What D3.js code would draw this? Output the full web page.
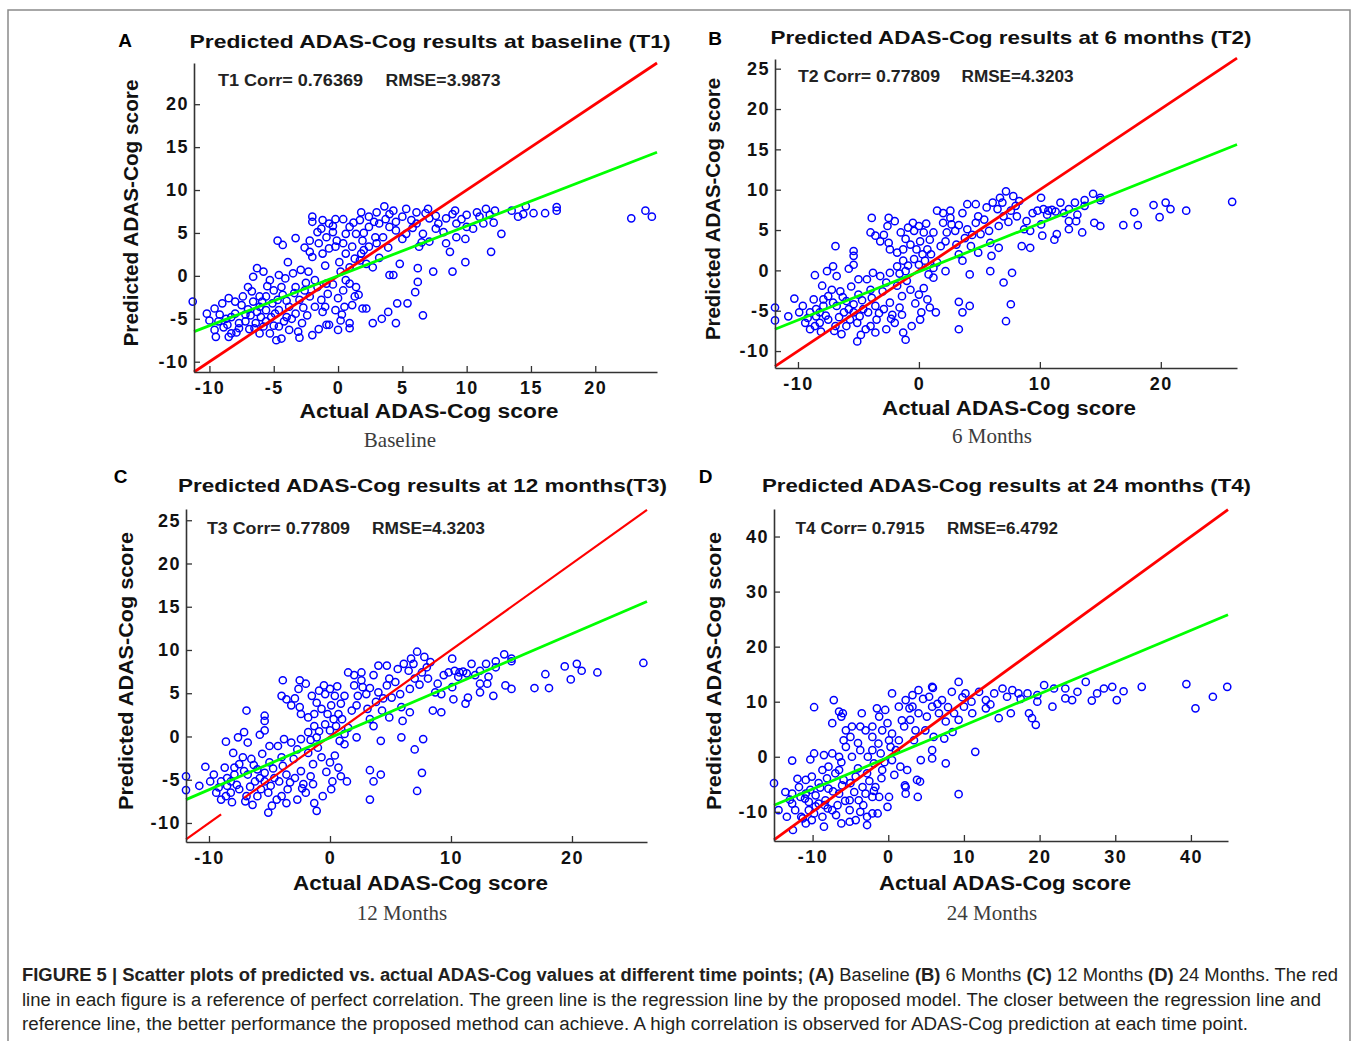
<!DOCTYPE html>
<html lang="en">
<head>
<meta charset="utf-8" />
<title>Figure 5</title>
<script src="https://d3js.org/d3.v7.min.js"></script>
<style>
  body { margin: 0; background: #fff; }
  svg { display: block; }
</style>
</head>
<body>
<svg id="fig" width="1358" height="1041"></svg>
<script>
// ---- data ----
const panelLetters = ["A", "B", "C", "D"];
const panelTitles = [
  "Predicted ADAS-Cog results at baseline (T1)",
  "Predicted ADAS-Cog results at 6 months (T2)",
  "Predicted ADAS-Cog results at 12 months(T3)",
  "Predicted ADAS-Cog results at 24 months (T4)"
];
const corrLabels = ["T1 Corr= 0.76369", "T2 Corr= 0.77809", "T3 Corr= 0.77809", "T4 Corr= 0.7915"];
const rmseLabels = ["RMSE=3.9873", "RMSE=4.3203", "RMSE=4.3203", "RMSE=6.4792"];
const subtitles = ["Baseline", "6 Months", "12 Months", "24 Months"];
const xLabel = "Actual ADAS-Cog score";
const yLabel = "Predicted ADAS-Cog score";

const xDomains = [[-11.2, 24.8], [-11.9, 26.3], [-11.9, 26.2], [-15.1, 44.9]];
const yDomains = [[-11.2, 24.8], [-12.1, 26.2], [-12.2, 26.3], [-15.3, 45]];
const xTicks = [
  [-10, -5, 0, 5, 10, 15, 20],
  [-10, 0, 10, 20],
  [-10, 0, 10, 20],
  [-10, 0, 10, 20, 30, 40]
];
const yTicks = [
  [-10, -5, 0, 5, 10, 15, 20],
  [-10, -5, 0, 5, 10, 15, 20, 25],
  [-10, -5, 0, 5, 10, 15, 20, 25],
  [-10, 0, 10, 20, 30, 40]
];

// reference (y = x) segments, panel C has a small gap in it
const refLines = [
  [[[-11.2, -11.2], [24.8, 24.8]]],
  [[[-11.9, -11.9], [26.3, 26.3]]],
  [[[-11.9, -11.9], [-9, -9]], [[-7.1, -7.1], [26.2, 26.2]]],
  [[[-15.1, -15.1], [44.9, 44.9]]]
];
// regression lines, end points
const fitLines = [
  [[-11.2, -6.5], [24.8, 14.4]],
  [[-11.9, -7.3], [26.3, 15.6]],
  [[-11.9, -7.3], [26.2, 15.6]],
  [[-15.1, -8.8], [44.9, 25.8]]
];

// [actual, predicted]
const pointsT1 = [
  [22.8,6.7],[23.9,7.6],[24.4,6.9],
  [17.0,8.0],[17.0,7.6],[16.1,7.3],[15.2,7.3],[14.6,8.1],[14.0,6.9],[13.5,7.6],[14.4,7.2],
  [12.7,4.9],[11.9,2.8],[12.1,6.2],[11.3,6.1],[10.5,5.5],[9.9,4.3],[9.9,1.6],[8.9,0.5],[8.7,2.8],
  [8.4,3.8],[7.4,0.5],[6.2,0.9],[6.2,-0.7],[6.0,-1.9],[6.6,-4.6],[5.4,-3.2],[4.6,-3.2],[4.8,1.4],
  [4.0,0.1],[4.3,0.1],[3.9,-4.2],[3.4,-5.0],[2.7,-5.5],[4.5,-5.5],[6.3,3.4],[7.1,4.0],
  [10.8,7.4],[11.5,7.8],[12.2,7.6],[11.0,6.9],[10.0,7.1],[9.1,7.6],[8.4,6.7],[7.8,6.1],[7.1,6.7],
  [7.6,5.5],[6.6,4.9],[6.1,6.1],[5.3,4.9],[5.0,4.3],[8.2,5.1],[9.2,6.1],[10.0,5.7],[9.2,4.5],
  [7.0,7.8],[6.1,7.4],[5.3,7.8],[3.6,8.1],[4.0,7.2],[3.0,7.4],[2.4,6.9],[1.8,7.4],[1.7,6.5],
  [2.4,5.7],[3.2,6.1],[4.0,5.7],[4.5,5.3],[3.5,4.5],[3.0,3.8],[2.4,3.4],[1.9,4.1],[1.4,4.9],
  [0.9,5.7],[0.4,6.6],[-0.2,6.6],[-0.7,6.1],[-1.2,6.5],[-2.0,6.9],[-2.0,6.3],[-1.3,5.5],[-0.4,5.1],
  [-0.9,4.5],[-1.5,3.8],[-2.2,4.1],[-2.2,2.8],[-2.0,2.2],[-1.2,2.6],[-0.7,3.2],[-0.2,3.4],[0.4,3.8],
  [0.6,2.6],[0.1,1.6],[0.9,1.0],[1.7,1.8],[2.2,1.4],[2.7,1.0],[1.1,3.4],[1.8,2.6],
  [4.3,7.6],[5.0,6.9],[2.8,6.3],
  [-4.7,4.1],[-4.3,3.6],[-3.3,4.4],[-3.9,1.6],
  [-11.3,-3.0],[-10.2,-4.4],[-9.6,-3.8],[-9.6,-6.3],[-9.5,-7.1],[-9.0,-3.2],[-8.5,-2.6],[-8.3,-4.8],
  [-8.3,-6.7],[-7.7,-5.5],[-7.5,-3.4],[-7.4,-2.4],[-7.0,-1.3],[-6.6,-0.1],[-6.3,0.9],[-5.8,0.5],
  [-5.3,-0.5],[-5.0,-1.7],[-5.6,-2.4],[-6.1,-3.6],[-6.8,-4.6],[-6.4,-5.5],[-6.1,-6.7],[-5.3,-6.7],
  [-4.8,-7.5],[-4.4,-7.3],[-4.6,-5.9],[-4.0,-4.8],[-3.8,-3.6],[-3.8,-6.3],[-3.1,-6.5],[-2.8,-5.5],
  [-3.3,-4.4],[-3.0,-2.8],[-2.6,-1.7],[-3.3,-1.3],[-4.1,-0.3],[-4.6,0.1],[-3.5,0.3],[-2.9,0.7],
  [-2.3,0.5],[-1.8,-0.5],[-2.2,-2.4],[-1.8,-3.6],[-2.4,-4.6],[-2.0,-6.9],[-0.9,-5.7],[-0.7,-5.7],
  [0.0,-6.3],[-0.2,-4.0],[0.5,-3.6],[0.9,-5.5],[0.9,-6.1],[0.2,-5.2],[0.0,-2.6],[0.4,-1.7],
  [0.9,-0.9],[1.4,-1.3],[1.3,-2.4],[1.9,-3.8],[2.2,-3.8],[1.1,-3.4],[-0.8,-2.1],[-0.9,-0.9],
  [-1.3,-2.8],[-1.2,-4.2],
  [-10.0,-5.2],[-9.3,-5.3],[-8.7,-5.0],[-8.6,-5.7],[-8.0,-4.4],[-7.7,-6.1],[-7.2,-5.3],[-7.0,-3.9],
  [-6.6,-3.0],[-6.1,-2.4],[-6.0,-4.8],[-5.6,-5.3],[-5.2,-4.8],[-5.1,-3.2],[-4.7,-2.8],[-4.6,-4.0],
  [-4.2,-5.3],[-5.6,-4.0],[-6.5,-6.1],[-8.5,-7.1],[-5.8,-5.9],[-4.3,-2.2],
  [-8.0,-3.0],[-7.2,-4.5],[-6.9,-6.2],[-6.3,-4.2],[-5.9,-3.0],[-5.5,-1.2],[-4.9,-4.4],[-4.4,-1.3],
  [-4.0,-2.9],[-3.6,-5.0],[-3.4,-2.0],[-2.7,-3.7],[-2.5,-0.8],[-1.6,-1.3],[-1.0,-3.6],[-0.4,-1.0],
  [0.3,-4.5],[0.6,-0.5],[1.6,-2.2],[-7.9,-6.6],[-9.2,-4.5],[-8.9,-6.0],[-6.7,-1.8],[-5.0,-5.8],
  [-3.0,-7.2],[-1.5,-6.2],[-0.4,5.8],[0.6,4.9],[1.2,6.2],[2.0,5.0],[2.9,4.5],[3.7,6.6],[4.5,6.3],
  [5.7,6.5],[5.8,5.6],[6.8,7.3],[-1.6,5.1],[-0.1,4.1],[1.3,2.0],[2.0,3.0],[3.2,2.1],[-2.6,3.3],
  [-1.0,1.2],[0.2,0.5],[8.9,7.2],[9.6,6.6],[11.8,7.1],[7.6,7.0],[6.5,3.9],[3.9,3.3]
];

// panels B and C show the same scatter
const pointsT2 = [
  [25.9,8.5],[22.1,7.4],[20.4,8.4],[20.8,7.6],[19.4,8.1],[19.9,6.6],[18.1,5.6],[16.9,5.6],[17.8,7.2],
  [15.0,8.7],[15.0,9.0],[14.4,9.5],[15.0,5.5],[14.5,5.9],[13.5,4.7],[13.1,6.9],[13.0,6.1],[12.4,5.1],
  [12.4,6.1],[12.0,7.1],[11.4,4.5],[11.2,3.8],[10.2,4.3],[10.1,5.7],[10.7,7.4],[10.3,7.6],[9.8,7.4],
  [9.4,7.1],[10.1,9.0],[11.7,8.4],[12.9,8.4],[13.7,8.7],[13.7,8.0],[9.2,4.9],[8.7,5.1],[9.2,2.8],
  [8.5,3.0],[8.1,6.7],[7.6,7.4],[8.0,8.0],[7.2,9.8],[7.8,9.2],[6.7,9.0],[6.1,8.4],[6.5,7.6],[7.0,6.7],
  [6.6,5.5],[5.8,4.9],[5.1,4.5],[5.9,3.4],[6.6,2.8],[6.0,1.8],[4.9,2.2],[4.3,3.0],[3.8,4.0],[3.1,3.2],
  [3.6,1.2],[3.3,2.0],[4.0,5.1],[4.7,5.9],[4.9,6.7],[4.7,8.2],[4.0,8.2],[3.6,7.1],[2.7,5.7],[3.0,4.9],
  [2.3,4.7],[2.2,3.6],[2.0,5.9],[1.5,7.4],[2.0,7.1],[2.6,7.4],
  [5.9,-0.1],[7.7,-0.3],[7.0,-1.5],[7.6,-4.2],[7.2,-6.3],[4.2,-0.5],[4.2,-4.4],[3.6,-5.2],[3.3,-3.9],
  [3.3,-7.3],[2.2,-0.1],
  [-3.9,6.5],[-2.5,6.5],[-2.0,6.1],[-2.6,5.5],[-4.0,4.7],[-3.6,4.3],[-3.2,3.6],[-2.5,3.4],[-1.5,4.7],
  [-0.5,5.9],[0.0,5.5],[-0.4,4.9],[0.4,4.7],[1.2,4.7],[0.9,3.8],[0.1,3.6],[-0.7,3.2],[-1.3,2.6],
  [-1.8,2.2],[-2.4,2.6],[-0.2,2.6],[0.7,2.6],[-0.4,1.4],[-1.3,1.2],[-1.8,0.5],[-2.4,-0.3],[-1.1,-0.1],
  [0.0,0.7],[0.5,1.2],[1.2,0.3],[1.5,1.0],[1.2,-0.9],
  [-6.9,3.0],[-5.4,2.4],[-5.4,1.8],[-5.8,0.2],[-5.4,0.7],[-7.1,0.5],[-7.6,-0.1],[-8.6,-0.6],[-6.8,-0.7],
  [-8.0,-1.9],[-10.3,-3.5],[-11.9,-4.6],[-11.9,-6.2],[-10.8,-5.7],[-9.6,-4.4],[-9.4,-6.5],[-9.0,-7.3],
  [-8.6,-6.9],[-8.2,-5.2],[-7.9,-4.4],[-7.5,-3.2],[-7.2,-2.4],[-6.5,-2.6],[-6.0,-3.8],[-6.2,-5.2],
  [-5.4,-4.2],[-5.0,-3.0],[-5.0,-1.1],[-4.3,-1.1],[-4.0,-2.4],[-4.6,-4.8],[-5.1,-6.5],[-4.4,-7.3],
  [-3.6,-7.7],[-5.1,-8.8],[-6.4,-7.9],[-6.9,-6.9],[-7.5,-6.1],[-3.5,-6.1],[-2.9,-4.8],[-2.7,-7.3],
  [-2.0,-6.5],[-1.3,-7.7],[-1.1,-8.6],[-0.6,-6.9],[0.1,-6.1],[0.2,-5.2],[0.9,-4.6],[1.4,-5.2],
  [0.7,-3.6],[0.0,-3.0],[-0.7,-2.4],[-1.4,-3.2],[-1.8,-1.9],[-2.7,-1.5],[-3.2,-0.7],[-3.8,-0.3],
  [-1.4,-5.5],[-2.2,-5.5],[-3.6,-4.4],[-5.7,-6.1],[-8.5,-5.7],[-9.0,-5.2],[-8.7,-3.6],[-6.8,-4.4],
  [-8.2,-6.5],[-6.0,-6.9],[-4.9,-5.7],[-4.0,-6.9],[-7.9,-3.6],[-5.4,-5.2],
  [-8.5,-4.8],[-7.7,-5.6],[-7.1,-4.0],[-6.6,-5.8],[-6.3,-3.3],[-5.8,-4.8],[-5.6,-2.0],[-4.7,-3.7],
  [-4.2,-5.2],[-3.9,-3.4],[-3.3,-5.3],[-3.0,-2.6],[-2.4,-4.0],[-2.3,-6.0],[-1.6,-4.6],[-1.0,-1.3],
  [-0.3,-4.1],[0.4,-2.2],[0.8,-0.5],[-9.9,-5.2],[-9.2,-5.9],[-8.1,-7.6],[-7.0,-7.5],[-4.8,-8.0],
  [-1.6,-0.4],[-0.9,0.6],[0.3,2.0],[1.0,2.0],[1.8,3.0],[-1.1,3.9],[-2.9,4.4],[-0.9,5.3],[0.6,5.8],
  [2.6,6.5],[3.3,5.6],[4.4,4.4],[5.4,6.3],[5.6,7.8],[6.9,8.4],[8.3,8.6],[7.4,6.0],[11.0,7.5],
  [10.6,6.9],[11.3,7.3],[12.4,7.6],[8.9,6.1]
];

const pointsT4 = [
  [44.8,12.7],[42.9,10.9],[40.6,8.8],[39.4,13.2],[33.5,12.7],[31.1,11.9],[30.2,10.3],[29.6,12.7],
  [28.5,12.4],[27.6,11.5],[26.9,10.2],[26.1,13.6],[25.0,11.8],[24.3,10.3],[23.4,10.6],[23.4,12.4],
  [21.7,9.1],[21.9,12.4],[20.6,13.0],[19.7,10.0],[19.5,5.8],[19.0,7.0],[18.6,7.9],[19.7,11.2],
  [18.4,11.5],[17.2,11.5],[16.4,12.1],[15.7,10.9],[15.1,12.4],[14.6,7.0],[16.2,7.9],[14.0,11.5],
  [12.9,10.3],[12.0,11.8],[11.5,0.9],[10.2,11.5],[9.3,13.6],[8.4,11.8],[5.8,12.7],[7.1,10.3],
  [10.0,9.1],[11.1,7.9],[12.9,8.8],[9.3,6.7],[7.6,6.4],[8.7,7.9],[6.7,7.9],[5.8,9.1],[5.1,7.3],
  [5.4,10.9],[4.0,12.1],[3.2,11.2],[2.3,10.3],[0.5,11.5],[1.4,9.1],[3.2,9.1],[4.0,7.9],[2.9,6.7],
  [2.1,5.5],[3.6,4.8],[4.9,4.8],[6.0,3.6],[7.4,3.3],[5.8,1.2],[5.8,-0.3],[7.6,-1.2],[3.8,-4.2],
  [4.3,-0.6],[2.5,-2.4],[2.3,-5.5],[2.3,-6.7],[3.9,-7.3],[0.1,-7.3],[-0.1,-9.1],[-1.4,-10.3],
  [-2.8,-12.4],[9.3,-6.8],[0.5,-0.6],[1.0,1.2],[-0.8,-2.4],[-1.0,0.6],[-2.1,1.2],[-2.1,3.6],
  [-3.0,4.8],[-2.1,5.5],[-1.2,7.3],[-1.5,8.8],[-0.4,8.5],[-0.1,6.1],[0.5,4.2],[1.4,3.0],[0.1,3.0],
  [-0.8,4.8],[-3.5,7.9],[-3.7,5.5],[-4.8,5.5],[-5.0,3.6],[-5.9,3.0],[-5.6,4.8],[-6.2,7.3],[-6.5,8.2],
  [-6.0,7.9],[-7.2,10.3],[-7.4,6.1],[-9.8,9.0],[5.9,12.5],
  [-3.7,1.2],[-4.8,0.0],[-5.6,1.8],[-6.5,0.0],[-7.4,0.6],[-8.5,0.3],[-9.8,0.6],[-10.3,-0.5],
  [-12.7,-0.7],[-15.1,-4.8],[-13.6,-6.4],[-12.7,-6.7],[-12.3,-9.7],[-12.6,-13.3],[-10.9,-12.1],
  [-10.1,-11.5],[-8.5,-12.7],[-8.7,-10.9],[-7.4,-9.7],[-6.2,-12.1],[-5.1,-11.8],[-5.1,-9.7],
  [-3.9,-7.9],[-2.8,-10.9],[-2.1,-10.3],[-3.4,-5.5],[-4.3,-3.6],[-5.9,-4.2],[-7.0,-3.0],[-7.9,-1.8],
  [-6.5,-2.4],[-8.7,-2.4],[-10.1,-3.6],[-10.9,-4.2],[-11.8,-5.5],[-11.6,-7.3],[-10.5,-8.2],
  [-9.6,-7.0],[-9.2,-8.5],[-8.3,-7.9],[-7.9,-5.8],[-6.5,-6.7],[-5.1,-7.9],[-3.0,-6.7],[-2.1,-7.3],
  [-5.0,-4.8],[-9.2,-4.8],[-10.9,-6.7],[-14.5,-9.7],[-10.5,-9.7],[-12.7,-8.5],[-13.4,-10.9],
  [-9.8,-10.3],[-11.5,-10.9],[-8.0,-9.4],[-6.7,-8.8],[-4.3,-11.5],[-3.7,-10.0],[-2.8,-3.0],
  [-1.7,-5.5],[-1.2,-7.3],[-1.9,-1.2],[2.2,-5.2],[4.2,-4.5],
  [-11.0,-7.6],[-10.3,-6.0],[-9.6,-9.0],[-9.0,-5.6],[-8.4,-8.8],[-8.1,-3.9],[-7.3,-6.3],[-6.9,-10.6],
  [-6.1,-5.2],[-5.7,-8.0],[-4.5,-6.4],[-4.0,-2.1],[-3.3,-8.8],[-2.5,-4.4],[-1.9,-6.2],[-0.9,-3.9],
  [-0.5,-1.0],[0.8,-3.3],[-12.0,-4.0],[-11.3,-11.2],[-13.0,-7.8],[-1.3,2.4],[0.3,1.8],[1.8,6.6],
  [2.8,8.8],[4.6,10.5],[3.4,3.0],[6.5,9.6],[7.9,9.0],[9.8,10.8],[11.0,10.0],[-4.0,2.5],[-2.7,0.0],
  [-6.2,-1.0],[1.6,-1.8],[13.5,9.5],[17.5,10.5],[8.5,4.5]
];

const pointSets = [pointsT1, pointsT2, pointsT2, pointsT4];

const captionLines = [
  [["FIGURE 5 | Scatter plots of predicted vs. actual ADAS-Cog values at different time points; (A)", true],
   [" Baseline ", false], ["(B)", true], [" 6 Months ", false], ["(C)", true],
   [" 12 Months ", false], ["(D)", true], [" 24 Months. The red", false]],
  [["line in each figure is a reference of perfect correlation. The green line is the regression line by the proposed model. The closer between the regression line and", false]],
  [["reference line, the better performance the proposed method can achieve. A high correlation is observed for ADAS-Cog prediction at each time point.", false]]
];

// ---- layout (pixels) ----
const layout = [
  { left: 194, right: 657, top: 63, bottom: 372, letter: [125, 40], title: [430, 41, 481],
    corr: [218, 80.5, 145], rmse: [385.5, 80.5, 115], xlab: [429, 411, 259], ylab: [131, 213, 267], sub: [400, 440] },
  { left: 775, right: 1237, top: 59, bottom: 368, letter: [715, 38.5], title: [1011, 37, 481],
    corr: [798, 76.5, 142], rmse: [961.5, 76.5, 112], xlab: [1009, 408, 254], ylab: [713, 209, 262], sub: [992, 436] },
  { left: 186, right: 647, top: 509, bottom: 842, letter: [120.5, 476], title: [422.5, 485, 489],
    corr: [207, 528, 143], rmse: [372, 528, 113], xlab: [420.5, 883, 255], ylab: [126, 671, 278], sub: [402, 913] },
  { left: 774, right: 1228, top: 509, bottom: 841, letter: [705.5, 476], title: [1006.5, 485, 489],
    corr: [795.5, 528, 129], rmse: [947, 528, 111], xlab: [1005, 883, 252], ylab: [714, 671, 278], sub: [992, 913] }
];

const sans = "'Liberation Sans', Arial, sans-serif";
const svg = d3.select("#fig");

// outer frame
svg.append("rect")
  .attr("x", 8).attr("y", 10).attr("width", 1342).attr("height", 1100)
  .attr("fill", "none").attr("stroke", "#8a8a8a").attr("stroke-width", 1.5);

panelLetters.forEach(function (letter, i) {
  var L = layout[i];
  var g = svg.append("g");

  var x = d3.scaleLinear().domain(xDomains[i]).range([L.left, L.right]);
  var y = d3.scaleLinear().domain(yDomains[i]).range([L.bottom, L.top]);

  // scatter
  g.append("g")
    .selectAll("circle")
    .data(pointSets[i])
    .join("circle")
    .attr("cx", function (d) { return x(d[0]); })
    .attr("cy", function (d) { return y(d[1]); })
    .attr("r", 3.6)
    .attr("fill", "none")
    .attr("stroke", "#0000ff")
    .attr("stroke-width", 1.5);

  var line = d3.line()
    .x(function (d) { return x(d[0]); })
    .y(function (d) { return y(d[1]); });

  refLines[i].forEach(function (seg) {
    g.append("path").attr("d", line(seg))
      .attr("fill", "none").attr("stroke", "#ff0000")
      .attr("stroke-width", i == 2 ? 2.2 : 2.8);
  });
  g.append("path").attr("d", line(fitLines[i]))
    .attr("fill", "none").attr("stroke", "#00ff00").attr("stroke-width", 2.8);

  // axes, ticks pointing inward like MATLAB
  var fmt = function (d) { return String(d); };
  var yAxis = g.append("g")
    .attr("transform", "translate(" + L.left + ",0)")
    .call(d3.axisLeft(y).tickValues(yTicks[i]).tickFormat(fmt)
      .tickSizeInner(-6).tickSizeOuter(0).tickPadding(5));
  var xAxis = g.append("g")
    .attr("transform", "translate(0," + L.bottom + ")")
    .call(d3.axisBottom(x).tickValues(xTicks[i]).tickFormat(fmt)
      .tickSizeInner(-6).tickSizeOuter(0).tickPadding(9));

  [xAxis, yAxis].forEach(function (ax) {
    ax.select(".domain").attr("stroke", "#333").attr("stroke-width", 1.6);
    ax.selectAll(".tick line").attr("stroke", "#333").attr("stroke-width", 1.3);
    ax.selectAll(".tick text")
      .attr("fill", "#111")
      .style("font-family", sans)
      .style("font-size", "18px")
      .style("font-weight", "bold")
      .style("letter-spacing", "1.5px");
  });

  // texts
  g.append("text")
    .attr("x", L.letter[0]).attr("y", L.letter[1])
    .attr("text-anchor", "middle").attr("dominant-baseline", "central")
    .style("font-family", sans).style("font-size", "19px").style("font-weight", "bold")
    .text(letter);

  g.append("text")
    .attr("x", L.title[0]).attr("y", L.title[1])
    .attr("text-anchor", "middle").attr("dominant-baseline", "central")
    .attr("textLength", L.title[2]).attr("lengthAdjust", "spacingAndGlyphs")
    .style("font-family", sans).style("font-size", "19px").style("font-weight", "bold")
    .attr("fill", "#111")
    .text(panelTitles[i]);

  [[L.corr, corrLabels[i]], [L.rmse, rmseLabels[i]]].forEach(function (t) {
    g.append("text")
      .attr("x", t[0][0]).attr("y", t[0][1])
      .attr("dominant-baseline", "central")
      .attr("textLength", t[0][2]).attr("lengthAdjust", "spacingAndGlyphs")
      .style("font-family", sans).style("font-size", "16px").style("font-weight", "bold")
      .attr("fill", "#222")
      .text(t[1]);
  });

  g.append("text")
    .attr("x", L.xlab[0]).attr("y", L.xlab[1])
    .attr("text-anchor", "middle").attr("dominant-baseline", "central")
    .attr("textLength", L.xlab[2]).attr("lengthAdjust", "spacingAndGlyphs")
    .style("font-family", sans).style("font-size", "20px").style("font-weight", "bold")
    .attr("fill", "#111")
    .text(xLabel);

  g.append("text")
    .attr("transform", "translate(" + L.ylab[0] + "," + L.ylab[1] + ") rotate(-90)")
    .attr("text-anchor", "middle").attr("dominant-baseline", "central")
    .attr("textLength", L.ylab[2]).attr("lengthAdjust", "spacingAndGlyphs")
    .style("font-family", sans).style("font-size", "20px").style("font-weight", "bold")
    .attr("fill", "#111")
    .text(yLabel);

  g.append("text")
    .attr("x", L.sub[0]).attr("y", L.sub[1])
    .attr("text-anchor", "middle").attr("dominant-baseline", "central")
    .style("font-family", "'Liberation Serif', 'Times New Roman', serif").style("font-size", "21px")
    .attr("fill", "#3c3c3c")
    .text(subtitles[i]);
});

// caption
var capY = [975, 1000, 1024];
var capW = [1316, 1299, 1226];
captionLines.forEach(function (parts, k) {
  var t = svg.append("text")
    .attr("x", 22).attr("y", capY[k])
    .attr("dominant-baseline", "central")
    .attr("textLength", capW[k]).attr("lengthAdjust", "spacingAndGlyphs")
    .style("font-family", "'Liberation Sans Narrow', 'Arial Narrow', 'Liberation Sans', sans-serif")
    .style("font-size", "18px")
    .style("white-space", "pre")
    .attr("fill", "#231f20");
  parts.forEach(function (p) {
    t.append("tspan").style("font-weight", p[1] ? "bold" : "normal").text(p[0]);
  });
});
</script>
</body>
</html>
